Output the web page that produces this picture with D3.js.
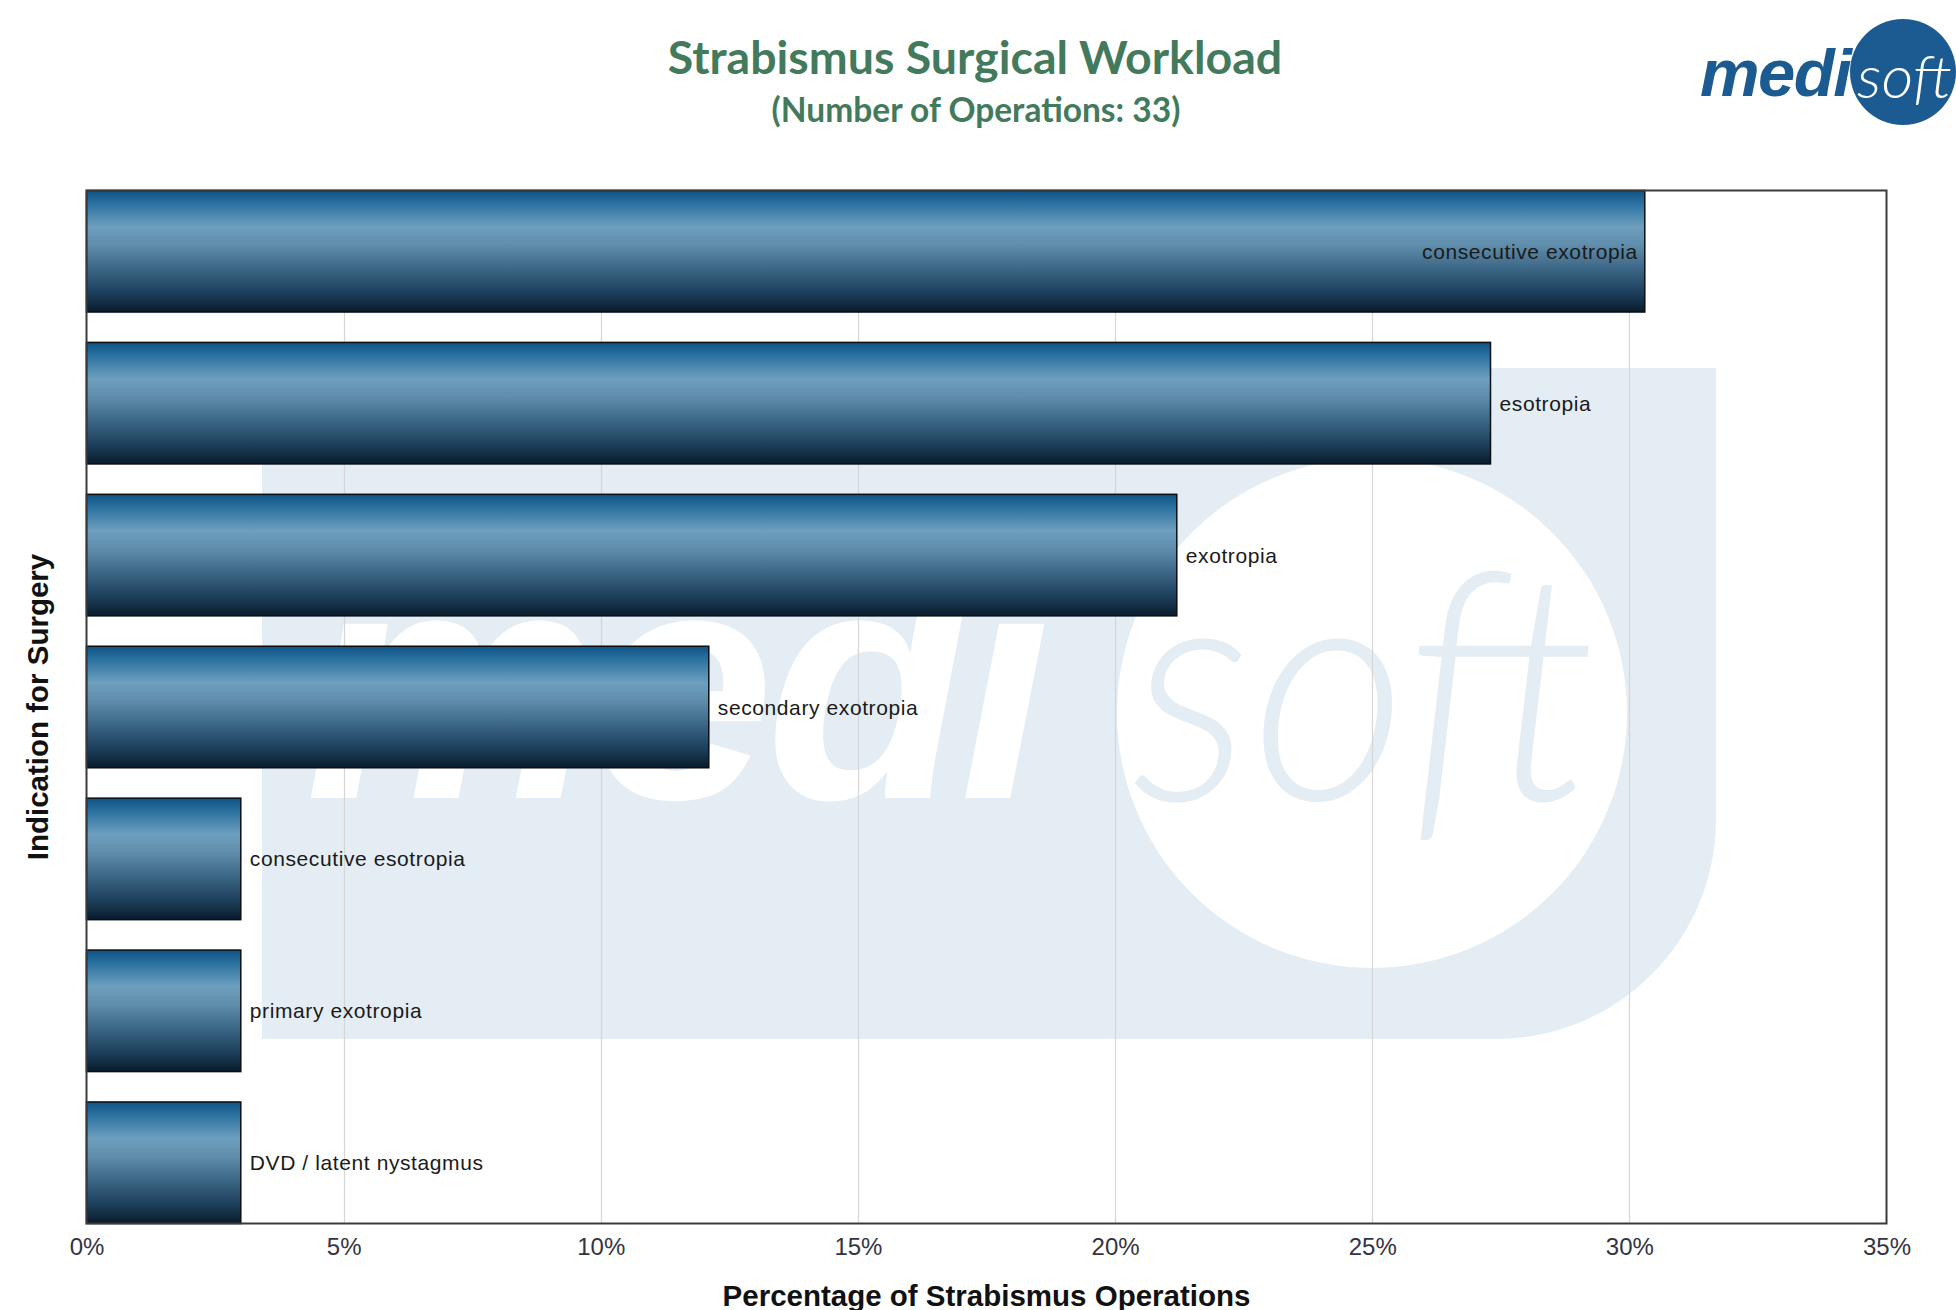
<!DOCTYPE html>
<html>
<head>
<meta charset="utf-8">
<script src="https://cdn.jsdelivr.net/npm/d3@7"></script>
<style>
  html, body { margin: 0; padding: 0; background: #fff; }
  svg { display: block; }
</style>
</head>
<body>
<svg id="chart" width="1956" height="1310"></svg>
<script>
// ---- data ----
const categories = [
  "consecutive exotropia",
  "esotropia",
  "exotropia",
  "secondary exotropia",
  "consecutive esotropia",
  "primary exotropia",
  "DVD / latent nystagmus"
];
const values = [30.3, 27.3, 21.2, 12.1, 3.0, 3.0, 3.0];
const xTicks = [0, 5, 10, 15, 20, 25, 30, 35];
const xTickLabels = ["0%", "5%", "10%", "15%", "20%", "25%", "30%", "35%"];
const titleText = "Strabismus Surgical Workload";
const subtitleText = "(Number of Operations: 33)";
const xAxisTitle = "Percentage of Strabismus Operations";
const yAxisTitle = "Indication for Surgery";

// ---- layout ----
const W = 1956, H = 1310;
const plot = { left: 86.5, right: 1886.5, top: 190.5, bottom: 1223.5 };

const svg = d3.select("#chart");

const x = d3.scaleLinear().domain([0, 35]).range([plot.left, plot.right]);
const y = d3.scaleBand().domain(categories).range([plot.top, plot.bottom])
  .paddingInner(0.2).paddingOuter(0);

// gradient
const defs = svg.append("defs");
const grad = defs.append("linearGradient").attr("id", "barGrad")
  .attr("x1", 0).attr("y1", 0).attr("x2", 0).attr("y2", 1);
[
  [0, "#0f5284"], [0.1, "#28709f"], [0.3, "#6e9fbe"], [0.45, "#5f8dab"],
  [0.65, "#3b6584"], [0.85, "#1b3e5a"], [1, "#091b2b"]
].forEach(s => grad.append("stop").attr("offset", s[0]).attr("stop-color", s[1]));

// ---- watermark ----
const wm = svg.append("g").attr("class", "watermark");
const wmColor = "#e4edf3";
const rx0 = 262, rx1 = 1716, ry0 = 368, ry1 = 1039, rr = 220;
wm.append("path")
  .attr("d", `M${rx0},${ry0} H${rx1} V${ry1 - rr} A${rr},${rr} 0 0 1 ${rx1 - rr},${ry1} H${rx0} Z`)
  .attr("fill", wmColor);
wm.append("text")
  .attr("x", 305).attr("y", 798)
  .attr("font-family", "Liberation Sans, Arial, sans-serif")
  .attr("font-weight", "bold").attr("font-style", "italic")
  .attr("font-size", 330).attr("fill", "#ffffff")
  .attr("letter-spacing", -8)
  .text("medi");
wm.append("circle").attr("cx", 1372).attr("cy", 713).attr("r", 255).attr("fill", "#ffffff");
wm.append("text")
  .attr("x", 1132).attr("y", 800)
  .attr("font-family", "Lato, 'Open Sans', sans-serif")
  .attr("font-weight", 300).attr("font-style", "italic")
  .attr("font-size", 320).attr("fill", wmColor)
  .attr("textLength", 465).attr("lengthAdjust", "spacingAndGlyphs")
  .text("soft");

// ---- gridlines ----
svg.append("g").attr("class", "grid")
  .selectAll("line").data(xTicks.slice(1, -1)).join("line")
  .attr("x1", d => Math.round(x(d)) + 0.5).attr("x2", d => Math.round(x(d)) + 0.5)
  .attr("y1", plot.top).attr("y2", plot.bottom)
  .attr("stroke", "#d6d6d6").attr("stroke-width", 1.2);

// ---- bars ----
const bars = svg.append("g").attr("class", "bars");
bars.selectAll("rect").data(categories).join("rect")
  .attr("x", x(0))
  .attr("y", d => y(d))
  .attr("width", (d, i) => x(values[i]) - x(0))
  .attr("height", y.bandwidth())
  .attr("fill", "url(#barGrad)")
  .attr("stroke", "#0a0f14").attr("stroke-width", 1.5);

// ---- bar labels ----
const labelFont = "Liberation Sans, Arial, sans-serif";
const labels = svg.append("g").attr("class", "labels");
labels.selectAll("text").data(categories).join("text")
  .each(function (d, i) {
    const t = d3.select(this);
    t.attr("font-family", labelFont).attr("font-size", 21)
      .attr("letter-spacing", 0.6)
      .attr("fill", "#1a1a1a")
      .attr("dominant-baseline", "central")
      .attr("y", y(d) + y.bandwidth() / 2)
      .text(d);
    const w = this.getComputedTextLength();
    const xe = x(values[i]);
    // label goes inside the bar when it would not clear the frame comfortably
    if (xe + 10 + w > plot.right - 60) {
      t.attr("x", xe - 7).attr("text-anchor", "end");
    } else {
      t.attr("x", xe + 9).attr("text-anchor", "start");
    }
  });

// ---- frame ----
svg.append("rect")
  .attr("x", plot.left).attr("y", plot.top)
  .attr("width", plot.right - plot.left).attr("height", plot.bottom - plot.top)
  .attr("fill", "none").attr("stroke", "#3a3a3a").attr("stroke-width", 2);

// ---- x axis ----
const xAxis = d3.axisBottom(x).tickValues(xTicks)
  .tickFormat((d, i) => xTickLabels[i]).tickSize(0).tickPadding(14);
const gx = svg.append("g").attr("transform", `translate(0,${plot.bottom})`).call(xAxis);
gx.select(".domain").remove();
gx.selectAll("text")
  .attr("font-family", labelFont).attr("font-size", 24)
  .attr("fill", "#333344");

svg.append("text")
  .attr("x", (plot.left + plot.right) / 2).attr("y", 1306)
  .attr("text-anchor", "middle")
  .attr("font-family", labelFont).attr("font-weight", "bold")
  .attr("font-size", 29.5).attr("fill", "#111")
  .text(xAxisTitle);

svg.append("text")
  .attr("transform", `translate(48,${(plot.top + plot.bottom) / 2}) rotate(-90)`)
  .attr("text-anchor", "middle")
  .attr("font-family", labelFont).attr("font-weight", "bold")
  .attr("font-size", 29.5).attr("fill", "#111")
  .text(yAxisTitle);

// ---- titles ----
svg.append("text")
  .attr("x", 975).attr("y", 74)
  .attr("text-anchor", "middle")
  .attr("font-family", "Lato, 'Open Sans', sans-serif").attr("font-weight", "bold")
  .attr("font-size", 46.5).attr("fill", "#437a5c")
  .text(titleText);
svg.append("text")
  .attr("x", 976).attr("y", 122)
  .attr("text-anchor", "middle")
  .attr("font-family", "Lato, 'Open Sans', sans-serif").attr("font-weight", "bold")
  .attr("font-size", 33.5).attr("fill", "#437a5c")
  .text(subtitleText);

// ---- logo ----
const logo = svg.append("g").attr("class", "logo");
logo.append("circle").attr("cx", 1903).attr("cy", 72).attr("r", 53).attr("fill", "#1b5b91");
logo.append("text")
  .attr("x", 1700).attr("y", 96)
  .attr("font-family", "Liberation Sans, Arial, sans-serif")
  .attr("font-weight", "bold").attr("font-style", "italic")
  .attr("font-size", 67).attr("fill", "#1b5b91")
  .attr("letter-spacing", -1.5)
  .text("medi");
logo.append("text")
  .attr("x", 1857).attr("y", 98)
  .attr("font-family", "Lato, 'Open Sans', sans-serif")
  .attr("font-weight", 300).attr("font-style", "italic")
  .attr("font-size", 60).attr("fill", "#ffffff")
  .attr("textLength", 95).attr("lengthAdjust", "spacingAndGlyphs")
  .text("soft");
</script>
</body>
</html>
